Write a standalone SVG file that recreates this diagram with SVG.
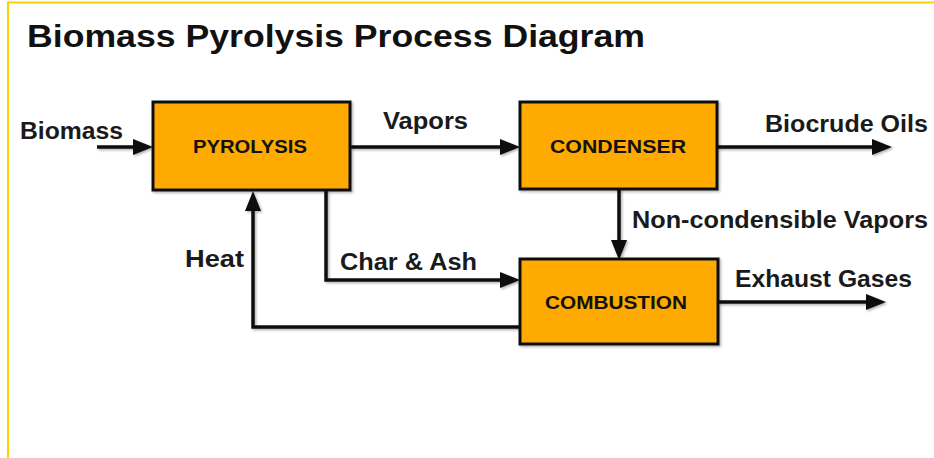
<svg xmlns="http://www.w3.org/2000/svg" width="934" height="458" viewBox="0 0 934 458">
  <style>
    .frame { stroke: #FFD000; stroke-width: 2; fill: none; }
    .box { fill: #FFAA00; stroke: #111; stroke-width: 3; }
    .boxlabel { font-family: "Liberation Sans", Arial, sans-serif; font-weight: bold; font-size: 19px; fill: #111; text-anchor: start; }
    .label { font-family: "Liberation Sans", Arial, sans-serif; font-weight: bold; font-size: 23px; fill: #1a1a1a; }
    .title { font-family: "Liberation Sans", Arial, sans-serif; font-weight: bold; font-size: 31px; fill: #111; }
    .flow { fill: none; stroke: #111; stroke-width: 3.5; stroke-linejoin: miter; stroke-linecap: butt; }
  </style>
  <defs>
    <filter id="shadow" x="-10%" y="-10%" width="130%" height="130%">
      <feDropShadow dx="1.5" dy="1.5" stdDeviation="1" flood-color="#000" flood-opacity="0.3"/>
    </filter>
    <marker id="arrow" markerUnits="userSpaceOnUse" markerWidth="20" markerHeight="16" refX="0" refY="8" orient="auto" overflow="visible">
      <path d="M0,0 L20,8 L0,16 Z" fill="#111"/>
    </marker>
  </defs>

  <rect width="934" height="458" fill="#fff"/>

  <!-- page frame: top and left rules -->
  <path class="frame" d="M8,458 V2.5 H934"/>

  <text class="title" x="27" y="47" textLength="618" lengthAdjust="spacingAndGlyphs">Biomass Pyrolysis Process Diagram</text>

  <!-- connectors -->
  <g id="connectors" filter="url(#shadow)">
    <path id="c-biomass" class="flow" d="M97,147 H133" marker-end="url(#arrow)"/>
    <path id="c-vapors" class="flow" d="M350,147 H500" marker-end="url(#arrow)"/>
    <path id="c-biocrude" class="flow" d="M717,147 H872" marker-end="url(#arrow)"/>
    <path id="c-noncond" class="flow" d="M619,189 V240" marker-end="url(#arrow)"/>
    <path id="c-char" class="flow" d="M326,190 V280 H500" marker-end="url(#arrow)"/>
    <path id="c-heat" class="flow" d="M520,327 H253 V211" marker-end="url(#arrow)"/>
    <path id="c-exhaust" class="flow" d="M718,302 H866" marker-end="url(#arrow)"/>
  </g>

  <!-- connector labels -->
  <g id="labels">
    <text class="label" x="20" y="139" textLength="103" lengthAdjust="spacingAndGlyphs">Biomass</text>
    <text class="label" x="383" y="129" textLength="85" lengthAdjust="spacingAndGlyphs">Vapors</text>
    <text class="label" x="765" y="132" textLength="163" lengthAdjust="spacingAndGlyphs">Biocrude Oils</text>
    <text class="label" x="632" y="228" textLength="296" lengthAdjust="spacingAndGlyphs">Non-condensible Vapors</text>
    <text class="label" x="340" y="270" textLength="137" lengthAdjust="spacingAndGlyphs">Char &amp; Ash</text>
    <text class="label" x="185" y="267" textLength="59" lengthAdjust="spacingAndGlyphs">Heat</text>
    <text class="label" x="735" y="287" textLength="177" lengthAdjust="spacingAndGlyphs">Exhaust Gases</text>
  </g>

  <!-- process units -->
  <g id="pyrolysis">
    <rect class="box" x="153" y="102" width="197" height="88" filter="url(#shadow)"/>
    <text class="boxlabel" x="193" y="153" textLength="114" lengthAdjust="spacingAndGlyphs">PYROLYSIS</text>
  </g>
  <g id="condenser">
    <rect class="box" x="520" y="102" width="197" height="87" filter="url(#shadow)"/>
    <text class="boxlabel" x="550" y="153" textLength="136" lengthAdjust="spacingAndGlyphs">CONDENSER</text>
  </g>
  <g id="combustion">
    <rect class="box" x="520" y="259" width="198" height="85" filter="url(#shadow)"/>
    <text class="boxlabel" x="545" y="309" textLength="142" lengthAdjust="spacingAndGlyphs">COMBUSTION</text>
  </g>
</svg>
